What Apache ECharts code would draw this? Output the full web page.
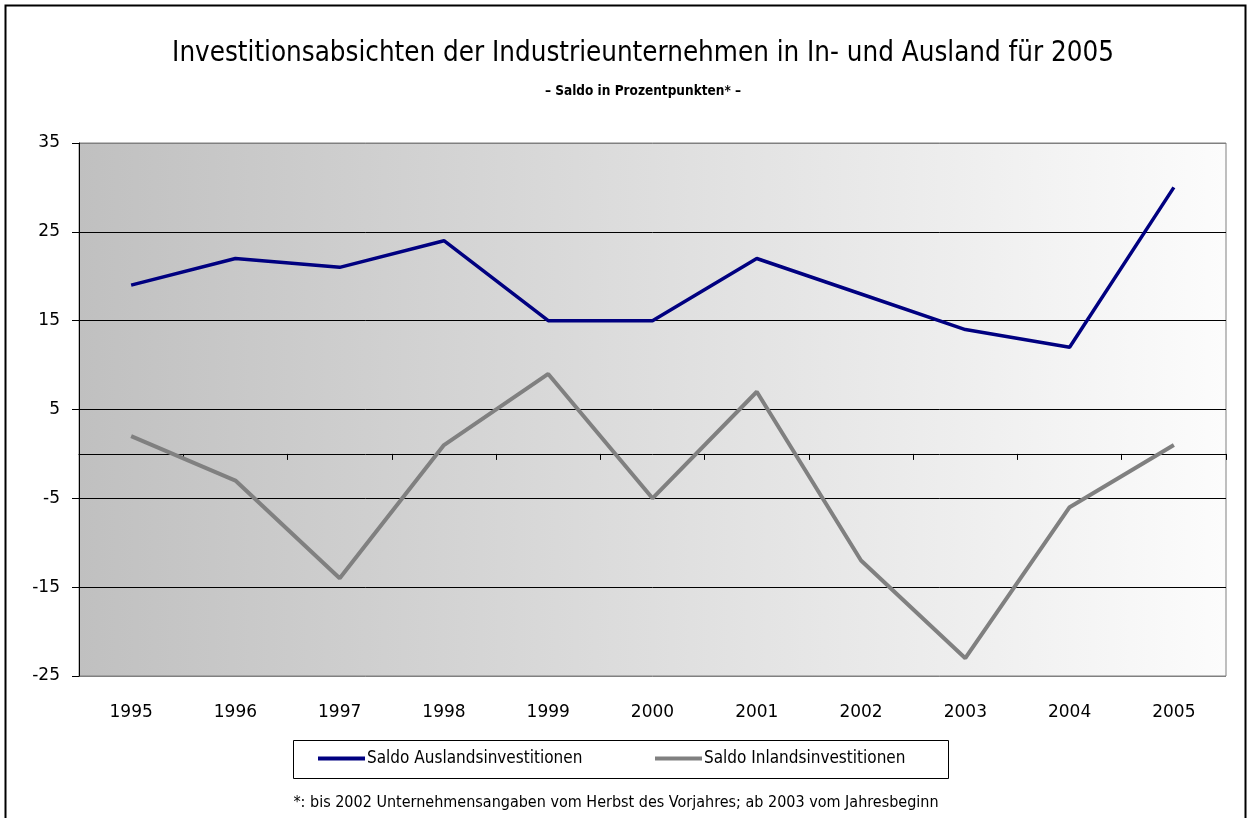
<!DOCTYPE html>
<html><head><meta charset="utf-8">
<script src="https://cdn.jsdelivr.net/npm/echarts@6/dist/echarts.min.js"></script>
<style>html,body{margin:0;padding:0;background:#fff}#c{width:1251px;height:818px}</style>
</head><body><div id="c"></div>
<script>
const years = ['1995','1996','1997','1998','1999','2000','2001','2002','2003','2004','2005'];
const ausland = [19, 22, 21, 24, 15, 15, 22, 18, 14, 12, 30];
const inland = [2, -3, -14, 1, 9, -5, 7, -12, -23, -6, 1];
const yTicks = [-25, -15, -5, 5, 15, 25, 35];
const nameAus = 'Saldo Auslandsinvestitionen';
const nameIn = 'Saldo Inlandsinvestitionen';

const cf = "'DejaVu Sans Condensed','Liberation Sans Narrow','DejaVu Sans',sans-serif";
const chart = echarts.init(document.getElementById('c'), null, {renderer:'canvas'});
chart.setOption({
  animation:false,
  backgroundColor:'#fff',
  title:[
    {text:'Investitionsabsichten der Industrieunternehmen in In- und Ausland für 2005', left:638, textAlign:'center', top:35,
     textStyle:{fontFamily:cf, fontWeight:'normal', fontSize:27.5, color:'#000'}},
    {text:'– Saldo in Prozentpunkten* –', left:638, textAlign:'center', top:79,
     textStyle:{fontFamily:cf, fontWeight:'bold', fontSize:13.5, color:'#000'}},
    {text:'*: bis 2002 Unternehmensangaben vom Herbst des Vorjahres; ab 2003 vom Jahresbeginn', left:611, textAlign:'center', top:790,
     textStyle:{fontFamily:cf, fontWeight:'normal', fontSize:16, color:'#000'}}
  ],
  graphic:[
    {type:'rect', shape:{x:5.5,y:5.5,width:1240,height:830}, style:{fill:'none', stroke:'#000', lineWidth:2}, silent:true},
    {type:'rect', shape:{x:293.5,y:740.5,width:655,height:38}, style:{fill:'#fff', stroke:'#000', lineWidth:1}, silent:true, z:-1}
  ],
  legend:[
    {data:[nameAus], left:318, top:750, itemWidth:47, itemHeight:4, icon:'rect', itemGap:0, padding:0,
     textStyle:{fontFamily:cf, fontSize:17, color:'#000', padding:[0,0,0,-3]}},
    {data:[nameIn], left:655, top:750, itemWidth:47, itemHeight:4, icon:'rect', itemGap:0, padding:0,
     textStyle:{fontFamily:cf, fontSize:17, color:'#000', padding:[0,0,0,-3]}}
  ],
  grid:{left:79, right:25, top:143, bottom:142, show:true, borderColor:'#808080', borderWidth:1,
    backgroundColor:{type:'linear', x:0, y:0, x2:1, y2:0, colorStops:[{offset:0,color:'#c0c0c0'},{offset:1,color:'#fcfcfc'}]}},
  xAxis:[
    {type:'category', data:years, boundaryGap:true, position:'bottom',
     axisLine:{onZero:true, lineStyle:{color:'#000', width:1}},
     axisTick:{show:true, length:6, lineStyle:{color:'#000'}},
     axisLabel:{show:false}, splitLine:{show:false}},
    {type:'category', data:years, boundaryGap:true, position:'bottom',
     axisLine:{show:false, onZero:false}, axisTick:{show:false},
     axisLabel:{show:true, margin:28, fontFamily:"'DejaVu Sans',sans-serif", fontSize:17, color:'#000'}, splitLine:{show:false}}
  ],
  yAxis:{type:'value', min:-25, max:35, interval:10,
    axisLine:{show:true, lineStyle:{color:'#000'}},
    axisTick:{show:true, length:7, lineStyle:{color:'#000'}},
    axisLabel:{fontFamily:"'DejaVu Sans',sans-serif", fontSize:17, color:'#000', margin:19},
    splitLine:{show:true, lineStyle:{color:['#808080','#000','#000','#000','#000','#000','#808080'], width:1}}},
  series:[
    {name:nameAus, type:'line', data:ausland, xAxisIndex:0, symbol:'none', color:'#000080',
     lineStyle:{color:'#000080', width:3.5}},
    {name:nameIn, type:'line', data:inland, xAxisIndex:0, symbol:'none', color:'#808080',
     lineStyle:{color:'#808080', width:4}}
  ]
});
</script></body></html>
